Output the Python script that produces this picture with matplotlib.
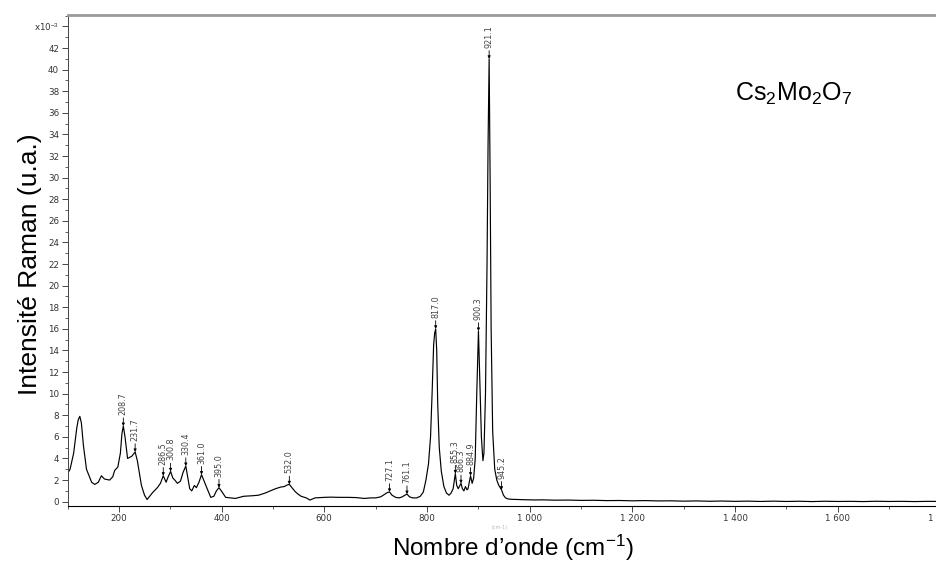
import numpy as np
import matplotlib.pyplot as plt
from matplotlib.ticker import MultipleLocator

plt.rcParams['mathtext.fontset'] = 'custom'
plt.rcParams['mathtext.rm'] = 'Liberation Sans'
plt.rcParams['mathtext.it'] = 'Liberation Sans:italic'

# Raman spectrum, intensity in units of 1e-3
wavenumber = [100, 105, 112, 118, 121, 124, 127, 131, 137, 147, 153, 160, 166, 172, 182, 188,
              192, 198, 203, 206, 208.7, 212, 217, 225, 231.7, 236, 244, 250, 255, 260, 265,
              275, 281, 286.5, 292, 296, 300.8, 305, 309, 314, 320, 325, 330.4, 334, 338, 342,
              347, 351, 356, 361.0, 366, 372, 379, 385, 390, 395.0, 401, 408, 418, 427, 443,
              460, 472, 485, 495, 505, 515, 522, 528, 532.0, 537, 543, 549, 555, 565, 572, 582,
              600, 613, 630, 646, 662, 678, 690, 700, 710, 718, 723, 727.1, 732, 739, 746, 752,
              757, 761.1, 766, 772, 780, 787, 793, 798, 803, 807, 810, 813, 815, 817.0, 819, 821,
              824, 828, 833, 838, 843, 847, 851, 855.3, 858, 861, 863, 866.3, 869, 872, 875, 878,
              880, 884.9, 888, 891, 894, 897, 900.3, 903, 906, 909, 911, 914, 917, 919, 921.1,
              923, 925, 928, 932, 936, 940, 945.2, 949, 953, 958, 965, 975, 990, 1010, 1025,
              1050, 1075, 1100, 1125, 1150, 1175, 1200, 1225, 1250, 1275, 1300, 1325, 1350,
              1375, 1400, 1425, 1450, 1475, 1500, 1525, 1550, 1575, 1600, 1625, 1650, 1675,
              1700, 1725, 1750, 1775, 1800, 1830]
intensity = [2.6, 3.0, 4.5, 6.8, 7.6, 7.9, 7.3, 5.2, 3.0, 1.8, 1.6, 1.8, 2.4, 2.1, 2.0, 2.3,
             2.9, 3.2, 4.5, 6.3, 7.0, 6.0, 4.0, 4.2, 4.6, 3.8, 1.5, 0.6, 0.2, 0.5, 0.8,
             1.3, 1.7, 2.4, 1.8, 2.3, 2.8, 2.2, 2.0, 1.7, 1.9, 2.7, 3.3, 2.3, 1.2, 1.0,
             1.5, 1.3, 1.8, 2.5, 1.9, 1.2, 0.4, 0.5, 1.0, 1.3, 0.9, 0.4, 0.35, 0.3, 0.5,
             0.55, 0.6, 0.8, 1.0, 1.2, 1.35, 1.4, 1.55, 1.6, 1.3, 0.95, 0.7, 0.5, 0.35, 0.15, 0.35,
             0.4, 0.42, 0.4, 0.4, 0.38, 0.3, 0.35, 0.35, 0.45, 0.7, 0.85, 0.9, 0.6, 0.4, 0.35, 0.45,
             0.6, 0.7, 0.45, 0.35, 0.35, 0.5, 0.9, 2.0, 3.5, 6.0, 10.0, 14.5, 15.6, 16.0, 14.0, 9.0,
             5.0, 2.8, 1.4, 0.8, 0.6, 0.8, 1.2, 2.6, 1.5, 1.2, 1.4, 1.7, 1.2, 1.0, 1.4, 1.1,
             1.2, 2.4, 1.7, 2.2, 4.0, 10.0, 15.8, 11.0, 6.0, 3.8, 4.5, 10.0, 22.0, 33.0, 41.0,
             30.0, 16.0, 6.5, 3.0, 2.0, 1.5, 1.1, 0.6, 0.35, 0.25, 0.22, 0.2, 0.18, 0.16, 0.17,
             0.14, 0.15, 0.12, 0.13, 0.1, 0.11, 0.08, 0.1, 0.07, 0.08, 0.05, 0.07, 0.04,
             0.06, 0.03, 0.05, 0.02, 0.05, 0.02, 0.04, 0.01, 0.04, 0.02, 0.03, 0.01, 0.04,
             0.02, 0.03, 0.01, 0.03, 0.02, 0.02]

peaks = [208.7, 231.7, 286.5, 300.8, 330.4, 361.0, 395.0, 532.0, 727.1, 761.1,
         817.0, 855.3, 866.3, 884.9, 900.3, 921.1, 945.2]

xticks = [200, 400, 600, 800, 1000, 1200, 1400, 1600, 1800]
xtick_labels = ['200', '400', '600', '800', '1 000', '1 200', '1 400', '1 600', '1 800']
yticks = list(range(0, 45, 2))
ytick_labels = [str(v) for v in yticks[:-1]] + ['x10$^{-3}$']

fig = plt.figure(figsize=(9.37, 5.65), dpi=100)
W, H = 937, 565
x0, x1 = 100, 1830
ax = fig.add_axes([67.5 / W, 1 - 506 / H, (x1 - x0) * 0.5135 / W, (506 - 15) / H])

ax.plot(wavenumber, intensity, color='k', lw=0.85)
ax.set_xlim(x0, x1)
ax.set_ylim(-0.4, 45.06)

ax.set_xticks(xticks, labels=xtick_labels)
ax.set_yticks(yticks, labels=ytick_labels)
ax.xaxis.set_minor_locator(MultipleLocator(100))
ax.yaxis.set_minor_locator(MultipleLocator(1))
ax.tick_params(axis='both', which='major', direction='out', length=4, width=0.7,
               color='#444', labelsize=6.3, labelcolor='#333', pad=2)
ax.tick_params(axis='both', which='minor', direction='out', length=2.5, width=0.6, color='#444')

ax.spines['top'].set_color('#9a9a9a')
ax.spines['top'].set_linewidth(2)
ax.spines['right'].set_visible(False)
ax.spines['left'].set_color('#444')
ax.spines['left'].set_linewidth(0.7)
ax.spines['bottom'].set_linewidth(0.8)

# peak labels with little arrows
for p in peaks:
    yv = np.interp(p, wavenumber, intensity)
    ax.annotate(f'{p:.1f}', xy=(p, yv), xytext=(0, 11), textcoords='offset pixels',
                rotation=90, ha='center', va='bottom', fontsize=5.8, color='#444',
                arrowprops=dict(arrowstyle='-|>', color='k', lw=0.6, mutation_scale=4,
                                shrinkA=0, shrinkB=0))

fig.text(735 / W, 1 - 101 / H, r'Cs$_2$Mo$_2$O$_7$', fontsize=18,
         family='Liberation Sans', ha='left', va='baseline')
fig.text(513 / W, 1 - 548 / H, 'Nombre d\u2019onde (cm$^{-1}$)', fontsize=17.5,
         family='Liberation Sans', ha='center', va='center')
fig.text(30 / W, 1 - 264 / H, 'Intensité Raman (u.a.)', fontsize=19, rotation=90,
         family='Liberation Sans', ha='center', va='center')
fig.text(500 / W, 1 - 527 / H, '(cm-1)', fontsize=3.5, color='#bbb', ha='center', va='center')

plt.savefig('out.png', dpi=100)
